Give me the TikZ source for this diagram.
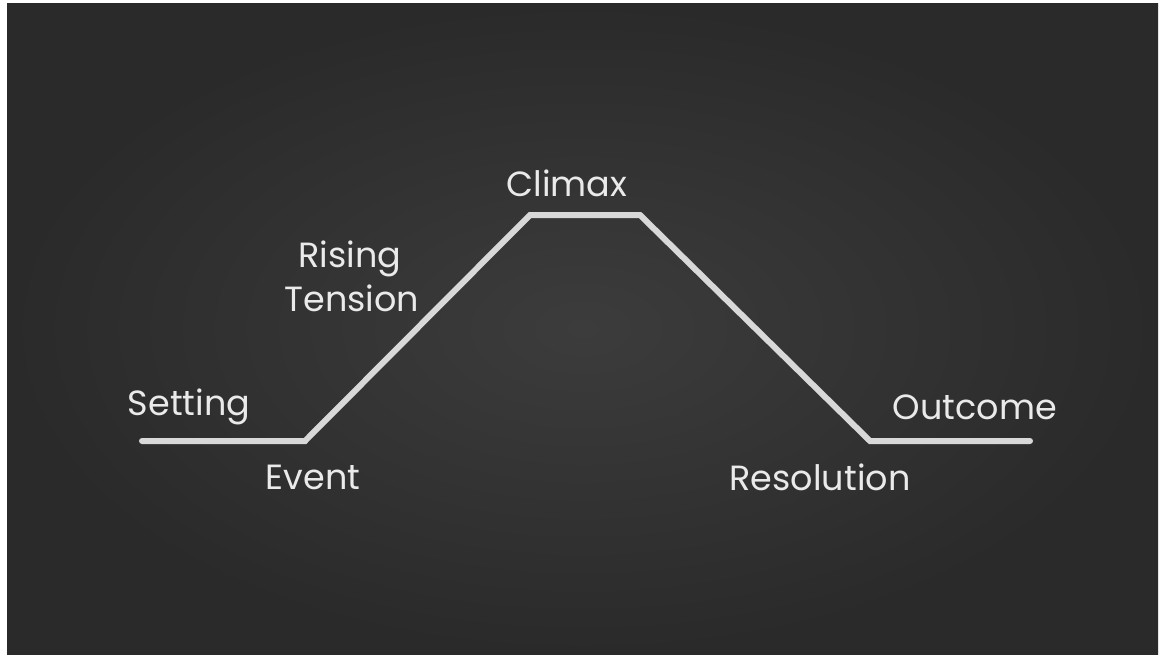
\documentclass[tikz,border=0pt]{standalone}
\usepackage{fontspec}
\setmainfont{Poppins}
\definecolor{board}{HTML}{2A2A2A}
\definecolor{boardmid}{HTML}{3C3C3C}
\definecolor{chalk}{HTML}{EAEAEA}
\definecolor{chalkline}{HTML}{D8D8D8}
\begin{document}
\begin{tikzpicture}[x=1pt,y=-1pt,
  lbl/.style={text=chalk,font=\fontsize{35}{38}\selectfont,inner sep=0pt,anchor=center},
  chalkstroke/.style={draw=chalkline,line width=6pt,line join=miter,line cap=round}]
\useasboundingbox (0,0) rectangle (1160,654);
\fill[white] (0,0) rectangle (1160,654);
\shade[inner color=boardmid,outer color=board] (7,3) rectangle (1158,654);
% path coordinates
\coordinate (s) at (142,441);
\coordinate (e) at (305,441);
\coordinate (c1) at (530,215);
\coordinate (c2) at (640,215);
\coordinate (r) at (870,441);
\coordinate (o) at (1030,441);
\draw[chalkstroke] (s) -- (e) -- (c1) -- (c2) -- (r) -- (o);
\node[lbl] (setting) at (189,407) {Setting};
\node[lbl] (event) at (313,477) {Event};
\node[lbl] (rising) at (350,259) {Rising};
\node[lbl] (tension) at (352,298) {Tension};
\node[lbl] (climax) at (567,183) {Climax};
\node[lbl] (outcome) at (975,407) {Outcome};
\node[lbl] (resolution) at (820,477) {Resolution};
\end{tikzpicture}
\end{document}
